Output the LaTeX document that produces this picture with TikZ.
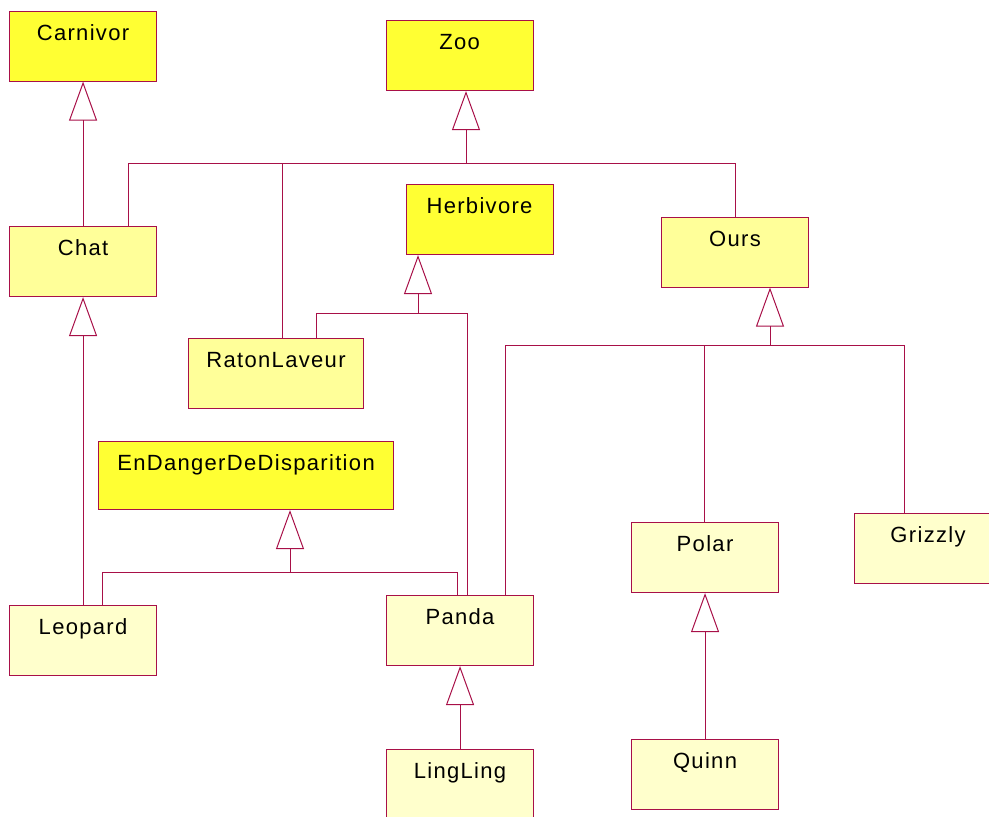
\documentclass[tikz,border=0pt]{standalone}
\usepackage{fontspec}
\setmainfont{Liberation Sans}[LetterSpace=6]
\usetikzlibrary{arrows.meta}
\definecolor{edge}{RGB}{168,16,72}
\definecolor{abstractfill}{RGB}{255,255,51}
\definecolor{midfill}{RGB}{255,255,153}
\definecolor{leaffill}{RGB}{255,255,204}
\begin{document}
\begin{tikzpicture}[x=1pt,y=-1pt,
  cls/.style={draw=edge, line width=1.1pt, rectangle, anchor=north west,
    inner xsep=0pt, inner ysep=0pt, minimum width=147pt,
    text height=29pt, text depth=41pt,
    font=\fontsize{22}{24}\selectfont},
  top/.style={cls, fill=abstractfill},
  mid/.style={cls, fill=midfill},
  leaf/.style={cls, fill=leaffill},
  wire/.style={draw=edge, line width=1pt},
  inh/.style={wire, -{Triangle[open, length=39pt, width=28pt]}}
]
\useasboundingbox (0,0) rectangle (989,817);
\clip (0,0) rectangle (989,817);

% classes
\node[top]  (carnivor)  at (9,10.5)    {Carnivor};
\node[top]  (zoo)       at (385.5,20)  {Zoo};
\node[top]  (herbivore) at (405.5,184) {Herbivore};
\node[mid]  (ours)      at (661,216.5) {Ours};
\node[mid]  (chat)      at (9,226)     {Chat};
\node[mid, minimum width=175pt] (raton) at (188,338) {RatonLaveur};
\node[top, minimum width=295pt, text depth=39pt] (endanger) at (98,441) {EnDangerDeDisparition};
\node[leaf] (leopard)   at (9,604.5)   {Leopard};
\node[leaf] (panda)     at (386,595)   {Panda};
\node[leaf] (lingling)  at (386,749)   {LingLing};
\node[leaf] (polar)     at (631,522)   {Polar};
\node[leaf] (grizzly)   at (854,513)   {Grizzly};
\node[leaf] (quinn)     at (631,738.5) {Quinn};

% attachment points on the subclasses
\path (chat.north west)    ++(119,0)   coordinate (chatUp);
\path (raton.north west)   ++(94,0)    coordinate (ratonUp);
\path (raton.north west)   ++(128,0)   coordinate (ratonHerb);
\path (ours.north west)    ++(74,0)    coordinate (oursUp);
\path (panda.north west)   ++(71.3,0)  coordinate (pandaDanger);
\path (panda.north west)   ++(81.7,0)  coordinate (pandaHerb);
\path (panda.north west)   ++(119.3,0) coordinate (pandaOurs);
\path (leopard.north west) ++(93,0)    coordinate (leopardDanger);
\path (polar.north west)   ++(73,0)    coordinate (polarUp);
\path (grizzly.north west) ++(50,0)    coordinate (grizzlyUp);

% arrow tips on the superclasses and the bus lines below them
\path (zoo.south west)       ++(80.5,0) coordinate (zooTip);
\path (zooTip)               ++(0,72.5) coordinate (zooBus);
\path (herbivore.south west) ++(12.5,0) coordinate (herbTip);
\path (herbTip)              ++(0,58.5) coordinate (herbBus);
\path (ours.south west)      ++(109,0)  coordinate (oursTip);
\path (oursTip)              ++(0,58)   coordinate (oursBus);
\path (endanger.south west)  ++(192,0)  coordinate (dangerTip);
\path (dangerTip)            ++(0,62)   coordinate (dangerBus);

% single generalisations
\draw[inh] (carnivor.south |- chat.north) -- (carnivor.south);
\draw[inh] (chat.south |- leopard.north) -- (chat.south);
\draw[inh] (panda.south |- lingling.north) -- (panda.south);
\draw[inh] (polar.south |- quinn.north) -- (polar.south);

% shared generalisations: branches onto a bus, then one arrow up
\draw[wire] (chatUp) |- (zooBus) (ratonUp) |- (zooBus) (oursUp) |- (zooBus);
\draw[inh] (zooBus) -- (zooTip);

\draw[wire] (ratonHerb) |- (herbBus) (pandaHerb) |- (herbBus);
\draw[inh] (herbBus) -- (herbTip);

\draw[wire] (pandaOurs) |- (oursBus) (polarUp) |- (oursBus) (grizzlyUp) |- (oursBus);
\draw[inh] (oursBus) -- (oursTip);

\draw[wire] (leopardDanger) |- (dangerBus) (pandaDanger) |- (dangerBus);
\draw[inh] (dangerBus) -- (dangerTip);
\end{tikzpicture}
\end{document}
